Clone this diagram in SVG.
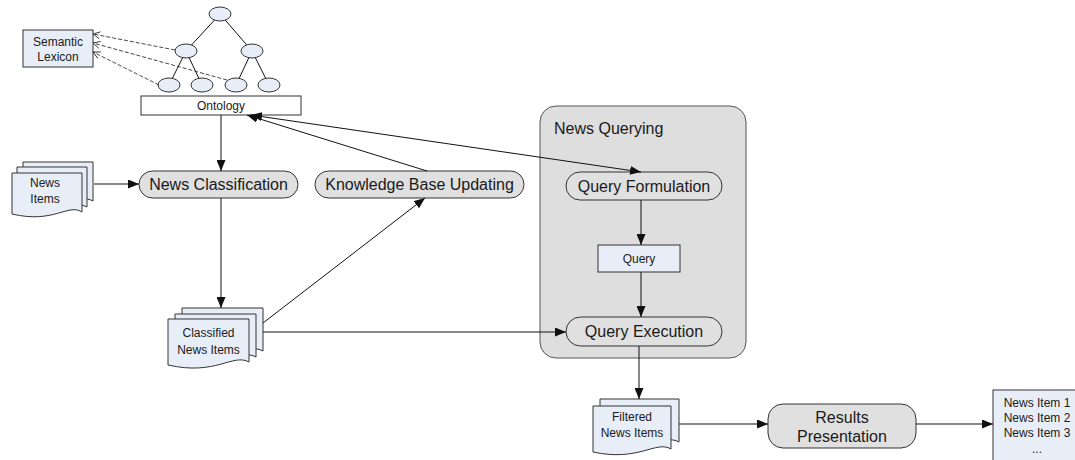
<svg xmlns="http://www.w3.org/2000/svg" width="1075" height="460" viewBox="0 0 1075 460">
  <style>
    text { font-family: "Liberation Sans", Arial, sans-serif; fill: #1a1a1a; }
    .lbl { font-size: 16px; text-anchor: middle; }
    .sm { font-size: 12px; text-anchor: middle; }
    .proc { fill: #e0e0e0; stroke: #333; stroke-width: 1; }
    .doc { fill: #e8eef8; stroke: #333; stroke-width: 1; }
    .box { fill: #e8eef8; stroke: #333; stroke-width: 1; }
    .node { fill: #e8eef8; stroke: #333; stroke-width: 1; }
    .edge { stroke: #111; stroke-width: 1; fill: none; }
    .conn { stroke: #111; stroke-width: 1; fill: none; marker-end: url(#arrow); }
    .dash { stroke: #333; stroke-width: 0.9; fill: none; stroke-dasharray: 4 2; marker-end: url(#open); }
  </style>
  <defs>
    <marker id="arrow" markerUnits="userSpaceOnUse" markerWidth="11" markerHeight="9" refX="11" refY="4.5" orient="auto-start-reverse">
      <path d="M0,0 L11,4.5 L0,9 Z" fill="#111"/>
    </marker>
    <marker id="open" markerUnits="userSpaceOnUse" markerWidth="8" markerHeight="8" refX="7" refY="4" orient="auto">
      <path d="M0,0.5 L7,4 L0,7.5" fill="none" stroke="#333" stroke-width="0.9"/>
    </marker>
  </defs>

  <!-- News Querying container -->
  <g id="news-querying">
    <rect x="540" y="106" width="206" height="252" rx="16" fill="#dedede" stroke="#555" stroke-width="1"/>
    <text x="554" y="134" font-size="16px">News Querying</text>
  </g>

  <!-- ontology tree -->
  <g id="ontology-tree">
    <line class="edge" x1="220" y1="14" x2="186" y2="51"/>
    <line class="edge" x1="220" y1="14" x2="252" y2="51"/>
    <line class="edge" x1="186" y1="51" x2="169" y2="85"/>
    <line class="edge" x1="186" y1="51" x2="202" y2="85"/>
    <line class="edge" x1="252" y1="51" x2="236" y2="85"/>
    <line class="edge" x1="252" y1="51" x2="269" y2="85"/>
    <ellipse class="node" cx="220" cy="14" rx="11" ry="7"/>
    <ellipse class="node" cx="186" cy="51" rx="11" ry="7"/>
    <ellipse class="node" cx="252" cy="51" rx="11" ry="7"/>
    <ellipse class="node" cx="169" cy="85" rx="11" ry="7"/>
    <ellipse class="node" cx="202" cy="85" rx="11" ry="7"/>
    <ellipse class="node" cx="236" cy="85" rx="11" ry="7"/>
    <ellipse class="node" cx="269" cy="85" rx="11" ry="7"/>
  </g>

  <g id="ontology">
    <rect x="141" y="96" width="160" height="19" fill="#fff" stroke="#333" stroke-width="1"/>
    <text class="sm" x="221" y="110">Ontology</text>
  </g>

  <g id="semantic-lexicon">
    <rect class="box" x="23" y="30" width="70" height="37"/>
    <text class="sm" x="58" y="46">Semantic</text>
    <text class="sm" x="58" y="61">Lexicon</text>
  </g>

  <!-- stacked document: News Items -->
  <g id="news-items">
    <path class="doc" d="M23,162 H93 V201 C79,193 65,212 23,203 Z"/>
    <path class="doc" d="M17,167 H87 V207 C73,199 59,218 17,209 Z"/>
    <path class="doc" d="M12,173 H82 V212 C68,203 54,224 12,214 Z"/>
    <text class="sm" x="45" y="187">News</text>
    <text class="sm" x="45" y="203">Items</text>
  </g>

  <g id="news-classification">
    <rect class="proc" x="139" y="171" width="159" height="27" rx="13.5"/>
    <text class="lbl" x="218.5" y="190">News Classification</text>
  </g>

  <g id="knowledge-base-updating">
    <rect class="proc" x="315" y="171" width="209" height="27" rx="13.5"/>
    <text class="lbl" x="419.5" y="190">Knowledge Base Updating</text>
  </g>

  <!-- stacked document: Classified News Items -->
  <g id="classified-news-items">
    <path class="doc" d="M182,308 H263 V351 C247,342 230,364 182,354 Z"/>
    <path class="doc" d="M175,314 H256 V357 C240,348 223,370 175,360 Z"/>
    <path class="doc" d="M168,319 H249 V362 C233,353 216,376 168,365 Z"/>
    <text class="sm" x="208.5" y="337">Classified</text>
    <text class="sm" x="208.5" y="354">News Items</text>
  </g>

  <g id="query-formulation">
    <rect class="proc" x="566" y="172" width="156" height="28" rx="14"/>
    <text class="lbl" x="644" y="191.5">Query Formulation</text>
  </g>

  <g id="query">
    <rect class="box" x="598" y="245" width="82" height="27"/>
    <text class="sm" x="639" y="263">Query</text>
  </g>

  <g id="query-execution">
    <rect class="proc" x="566" y="317" width="156" height="29" rx="14.5"/>
    <text class="lbl" x="644" y="337">Query Execution</text>
  </g>

  <!-- stacked document: Filtered News Items -->
  <g id="filtered-news-items">
    <path class="doc" d="M600,399 H679 V442 C663,433 647,455 600,445 Z"/>
    <path class="doc" d="M593,406 H671 V449 C656,440 639,462 593,452 Z"/>
    <text class="sm" x="632" y="421">Filtered</text>
    <text class="sm" x="632" y="437">News Items</text>
  </g>

  <g id="results-presentation">
    <rect class="proc" x="768" y="404" width="148" height="44" rx="15"/>
    <text class="lbl" x="842" y="423">Results</text>
    <text class="lbl" x="842" y="442">Presentation</text>
  </g>

  <g id="result-list">
    <rect class="box" x="993" y="390" width="90" height="80"/>
    <text class="sm" x="1037" y="407">News Item 1</text>
    <text class="sm" x="1037" y="422">News Item 2</text>
    <text class="sm" x="1037" y="437">News Item 3</text>
    <text class="sm" x="1037" y="453">...</text>
  </g>

  <!-- connectors -->
  <g id="connectors">
    <path class="dash" d="M175,50 L93,34"/>
    <path class="dash" d="M227,80 L93,43"/>
    <path class="dash" d="M159,85 L93,52"/>

    <path class="conn" d="M221,115 V171"/>
    <path class="conn" d="M94,184 H139"/>
    <path class="conn" d="M221,198 V308"/>
    <path class="conn" d="M427,171 L247,115"/>
    <path class="conn" d="M251,115 L641,172" marker-start="url(#arrow)"/>
    <path class="conn" d="M263,323 L425,198"/>
    <path class="conn" d="M263,332 H566"/>
    <path class="conn" d="M641,200 V245"/>
    <path class="conn" d="M641,272 V317"/>
    <path class="conn" d="M639,346 V399"/>
    <path class="conn" d="M679,424 H768"/>
    <path class="conn" d="M916,424 H993"/>
  </g>
</svg>
